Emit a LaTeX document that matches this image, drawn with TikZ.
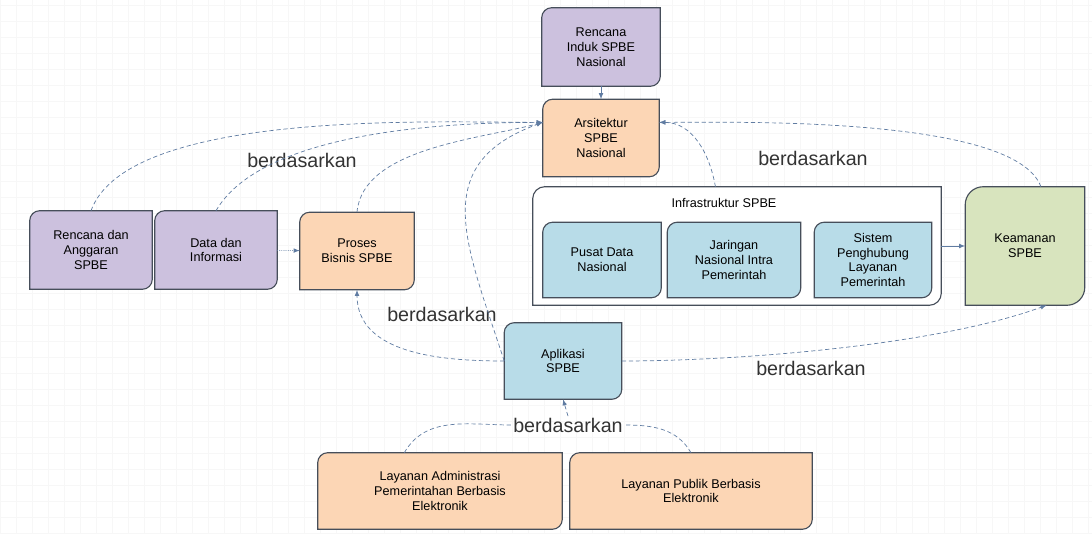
\documentclass[tikz,border=0pt]{standalone}
\usepackage{fontspec}
\setmainfont{Liberation Sans}
\usepackage{xcolor}
\usepackage{tikz}
\usetikzlibrary{backgrounds}

\definecolor{ungu}{RGB}{204,193,222}
\definecolor{oranye}{RGB}{252,214,181}
\definecolor{biru}{RGB}{184,220,232}
\definecolor{hijau}{RGB}{216,228,190}
\definecolor{garis}{RGB}{96,124,162}
\definecolor{tepi}{RGB}{70,78,90}

% kotak dengan sudut kiri atas dan kanan bawah membulat
\newcommand{\shapebox}[3][0.25]{%
  \filldraw[draw=tepi, line width=0.8pt, fill=#3]
    ([yshift=-#1cm]#2.north west) arc[start angle=180, end angle=90, radius=#1cm]
    -- (#2.north east) -- ([yshift=#1cm]#2.south east)
    arc[start angle=0, end angle=-90, radius=#1cm] -- (#2.south west) -- cycle;}

\tikzset{
  kotak/.style={align=center, inner sep=0pt, font=\fontsize{9}{10.5}\selectfont},
  ket/.style={font=\fontsize{14}{16}\selectfont, text=black!80, inner sep=1pt},
  panah/.style={->, draw=garis, line width=0.5pt, dash pattern=on 3pt off 2pt},
}

\begin{document}
\begin{tikzpicture}[>=latex]
    \useasboundingbox (0,0) rectangle (27.3,13.325);

    % Kotak-kotak
    \node[kotak, minimum width=2.95cm, minimum height=1.95cm] (induk) at (15.025,12.15) {Rencana\\Induk SPBE\\Nasional};
    \node[kotak, minimum width=2.9cm, minimum height=1.925cm] (arsitektur) at (15.025,9.875) {Arsitektur\\SPBE\\Nasional};
    \node[kotak, minimum width=3.05cm, minimum height=1.95cm] (rencana) at (2.275,7.075) {Rencana dan\\Anggaran\\SPBE};
    \node[kotak, minimum width=3.05cm, minimum height=1.95cm] (data) at (5.4,7.075) {Data dan\\Informasi};
    \node[kotak, minimum width=2.85cm, minimum height=1.925cm] (proses) at (8.925,7.05) {Proses\\Bisnis SPBE};
    \node[kotak, minimum width=10.2cm, minimum height=2.95cm] (infra) at (18.425,7.175) {};
    \node[kotak] (infrajudul) at (18.1,8.25) {Infrastruktur SPBE};
    \node[kotak, minimum width=2.95cm, minimum height=1.875cm] (pusat) at (15.05,6.825) {Pusat Data\\Nasional};
    \node[kotak, minimum width=3.325cm, minimum height=1.875cm] (jaringan) at (18.35,6.825) {Jaringan\\Nasional Intra\\Pemerintah};
    \node[kotak, minimum width=2.925cm, minimum height=1.875cm] (sistem) at (21.825,6.825) {Sistem\\Penghubung\\Layanan\\Pemerintah};
    \node[kotak, minimum width=2.975cm, minimum height=2.95cm] (keamanan) at (25.625,7.175) {Keamanan\\SPBE};
    \node[kotak, minimum width=2.925cm, minimum height=1.9cm] (aplikasi) at (14.075,4.3) {Aplikasi\\SPBE};
    \node[kotak, minimum width=6.1cm, minimum height=1.9cm] (admin) at (11.0,1.05) {Layanan Administrasi\\Pemerintahan Berbasis\\Elektronik};
    \node[kotak, minimum width=6.05cm, minimum height=1.9cm] (publik) at (17.275,1.05) {Layanan Publik Berbasis\\Elektronik};

    % Latar dan bentuk kotak
    \begin{scope}[on background layer]
        \draw[black!3, line width=0.3pt, step=0.4] (0,0) grid (27.3,13.325);
        \shapebox[0.3]{infra}{white}
        \shapebox{induk}{ungu}
        \shapebox{arsitektur}{oranye}
        \shapebox{rencana}{ungu}
        \shapebox{data}{ungu}
        \shapebox{proses}{oranye}
        \shapebox{pusat}{biru}
        \shapebox{jaringan}{biru}
        \shapebox{sistem}{biru}
        \shapebox[0.45]{keamanan}{hijau}
        \shapebox{aplikasi}{biru}
        \shapebox{admin}{oranye}
        \shapebox{publik}{oranye}
    \end{scope}

    % Label
    \node[ket] (ket1) at (7.55,9.325) {berdasarkan};
    \node[ket] (ket2) at (20.325,9.375) {berdasarkan};
    \node[ket] (ket3) at (11.05,5.475) {berdasarkan};
    \node[ket] (ket4) at (20.275,4.125) {berdasarkan};
    \node[ket] (ket5) at (14.2,2.7) {berdasarkan};

    % Panah
    \draw[->, draw=garis, line width=0.5pt] (induk) -- (arsitektur);
    \draw[panah] (rencana.north) to[out=70, in=180, looseness=0.6] (arsitektur.165);
    \draw[panah] (data.north) to[out=60, in=180, looseness=0.7] (arsitektur.165);
    \draw[panah] (proses.north) to[out=85, in=195, looseness=0.8] (arsitektur.165);
    \draw[panah] (aplikasi.west) to[out=108, in=200, looseness=1.3] (arsitektur.165);
    \draw[panah] (aplikasi.west) to[out=180, in=-90] (proses.south);
    \draw[panah] (infra.110) to[out=100, in=0] (arsitektur.15);
    \draw[panah] (keamanan.75) to[out=110, in=0, looseness=0.5] (arsitektur.15);
    \draw[->, draw=garis, line width=0.5pt] (infra) -- (keamanan);
    \draw[->, draw=garis, line width=0.5pt, densely dotted] (data) -- (proses);
    \draw[panah] (aplikasi.east) to[out=0, in=200, looseness=0.7] (keamanan.290);
    \draw[panah, -] (admin.133) to[out=60, in=180] (ket5.west);
    \draw[panah, -] (publik.north) to[out=120, in=0] (ket5.east);
    \draw[panah] (ket5.north) -- (aplikasi.south);
\end{tikzpicture}
\end{document}
